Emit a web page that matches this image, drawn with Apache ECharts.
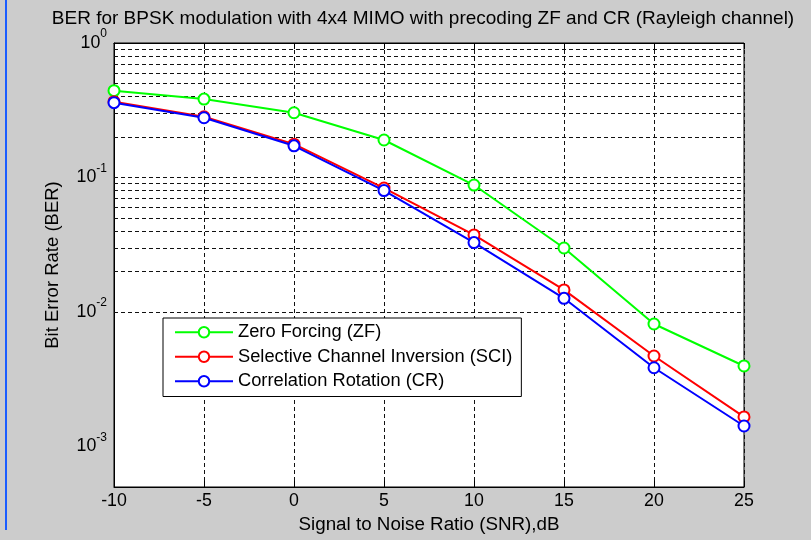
<!DOCTYPE html>
<html>
<head>
<meta charset="utf-8">
<script src="https://cdn.jsdelivr.net/npm/echarts@6/dist/echarts.min.js"></script>
<style>
html,body{margin:0;padding:0;background:#cccccc;}
#c{width:811px;height:540px;}
</style>
</head>
<body>
<div id="c"></div>
<script>
// ---- data ----
const snr = [-10, -5, 0, 5, 10, 15, 20, 25];
const zf  = [0.442, 0.383, 0.303, 0.190, 0.0879, 0.0299, 0.00814, 0.00397];
const sci = [0.366, 0.283, 0.177, 0.0835, 0.0374, 0.0146, 0.00471, 0.00166];
const cr  = [0.360, 0.278, 0.172, 0.0800, 0.0328, 0.01264, 0.00385, 0.00142];
const seriesNames = ['Zero Forcing (ZF)', 'Selective Channel Inversion (SCI)', 'Correlation Rotation (CR)'];
const xTicks = [-10, -5, 0, 5, 10, 15, 20, 25];
const yDecades = [-3, -2, -1, 0];
const yMin = 5e-4, yMax = 1;
const titleText = 'BER for BPSK modulation with 4x4 MIMO with precoding ZF and CR (Rayleigh channel)';

// grid lines on log axis: 1..9 x 10^k within range
const yGrid = [];
[-4, -3, -2, -1].forEach(function (k) {
  for (let m = 1; m <= 9; m++) {
    const v = m * Math.pow(10, k);
    if (v > yMin * 1.0001 && v < yMax * 0.9999) yGrid.push(v);
  }
});

const FONT = 'Liberation Sans, Arial, sans-serif';
const chart = echarts.init(document.getElementById('c'), null, {renderer: 'canvas'});

function pairs(arr) { return snr.map(function (x, i) { return [x, arr[i]]; }); }

const colors = ['#00ff00', '#ff0000', '#0000ff'];
const dataSets = [zf, sci, cr];

const series = dataSets.map(function (d, i) {
  return {
    name: seriesNames[i],
    type: 'line',
    data: pairs(d),
    symbol: 'emptyCircle',
    symbolSize: 11,
    z: 5 + i,
    lineStyle: {color: colors[i], width: 2},
    itemStyle: {color: colors[i], borderColor: colors[i], borderWidth: 2},
    emphasis: {disabled: true},
    animation: false
  };
});

series.push({
  name: 'gridlines',
  type: 'line',
  data: [],
  silent: true,
  z: 1,
  markLine: {
    silent: true,
    symbol: ['none', 'none'],
    label: {show: false},
    animation: false,
    lineStyle: {color: '#111', width: 1, type: [4, 3]},
    data: yGrid.map(function (v) { return {yAxis: v}; })
  }
});

chart.setOption({
  backgroundColor: '#cccccc',
  animation: false,
  title: {
    text: titleText,
    left: 423,
    top: 9,
    padding: 0,
    textAlign: 'center',
    textStyle: {fontFamily: FONT, fontSize: 19, fontWeight: 'normal', color: '#000'}
  },
  grid: {
    left: 114, right: 67, top: 43, bottom: 53,
    show: true, backgroundColor: '#ffffff', borderColor: '#000', borderWidth: 1
  },
  legend: {
    data: seriesNames,
    orient: 'vertical',
    left: 163,
    top: 318,
    padding: [5, 9, 6, 11],
    itemWidth: 58,
    itemHeight: 13,
    itemGap: 6,
    backgroundColor: '#ffffff',
    borderColor: '#000',
    borderWidth: 1,
    borderRadius: 0,
    textStyle: {fontFamily: FONT, fontSize: 18.3, lineHeight: 18.5, color: '#000'}
  },
  xAxis: [{
    type: 'value',
    min: -10, max: 25, interval: 5,
    name: 'Signal to Noise Ratio (SNR),dB',
    nameLocation: 'middle',
    nameGap: 27,
    nameTextStyle: {fontFamily: FONT, fontSize: 18.8, color: '#000'},
    axisLine: {show: true, onZero: false, lineStyle: {color: '#000', width: 1}},
    axisTick: {show: true, inside: true, length: 6, lineStyle: {color: '#000'}},
    axisLabel: {fontFamily: FONT, fontSize: 17.8, color: '#000', margin: 5},
    splitLine: {show: true, lineStyle: {color: '#111', width: 1, type: [4, 3]}}
  }, {
    type: 'value', position: 'top',
    min: -10, max: 25, interval: 5,
    axisLine: {show: true, onZero: false, lineStyle: {color: '#000'}},
    axisTick: {show: true, inside: true, length: 6, lineStyle: {color: '#000'}},
    axisLabel: {show: false},
    splitLine: {show: false}
  }],
  yAxis: {
    type: 'log',
    logBase: 10,
    min: yMin, max: yMax,
    name: 'Bit Error Rate (BER)',
    nameLocation: 'middle',
    nameGap: 52,
    nameRotate: 90,
    nameTextStyle: {fontFamily: FONT, fontSize: 18.5, color: '#000'},
    axisLine: {show: true, onZero: false, lineStyle: {color: '#000', width: 1}},
    axisTick: {show: false},
    splitLine: {show: false},
    axisLabel: {
      margin: 7,
      color: '#000',
      formatter: function (v) {
        const k = Math.log10(v);
        const r = Math.round(k);
        if (Math.abs(k - r) > 1e-6 || yDecades.indexOf(r) < 0) return '';
        return '{b|10}{s|' + r + '}';
      },
      rich: {
        b: {fontFamily: FONT, fontSize: 17.8, lineHeight: 30, color: '#000'},
        s: {fontFamily: FONT, fontSize: 12, lineHeight: 12, verticalAlign: 'top', color: '#000'}
      }
    }
  },
  graphic: [{
    type: 'rect', left: 5, top: 0, shape: {width: 2, height: 530},
    style: {fill: '#1a5cff'}, silent: true
  }],
  series: series
});
</script>
</body>
</html>
